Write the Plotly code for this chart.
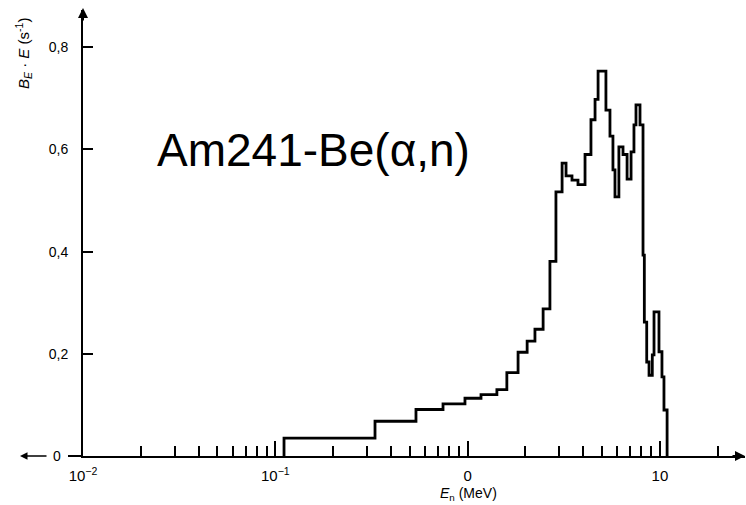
import plotly.graph_objects as go

# Bin edges (MeV) and heights B_E·E (s^-1)
bin_edges = [0.111, 0.330, 0.539, 0.745, 0.969, 1.174, 1.42, 1.60, 1.83, 2.04,
             2.24, 2.47, 2.68, 2.88, 3.10, 3.25, 3.49, 3.75, 4.08, 4.38,
             4.60, 4.77, 5.24, 5.50, 5.70, 5.84, 6.12, 6.43, 6.75, 7.08,
             7.33, 7.51, 7.88, 8.17, 8.30, 8.54, 8.78, 9.13, 9.32, 9.89,
             10.25, 10.5, 10.9]
bin_values = [0.035, 0.068, 0.091, 0.102, 0.113, 0.120, 0.130, 0.163, 0.203,
              0.225, 0.248, 0.288, 0.381, 0.517, 0.573, 0.548, 0.540, 0.531,
              0.590, 0.658, 0.698, 0.753, 0.677, 0.626, 0.560, 0.507, 0.605,
              0.590, 0.542, 0.595, 0.648, 0.687, 0.648, 0.393, 0.262, 0.184,
              0.158, 0.198, 0.282, 0.204, 0.155, 0.090]

x_major_vals = [0.01, 0.1, 1, 10]
x_major_text = ["10<sup>\u22122</sup>", "10<sup>\u22121</sup>", "0", "10"]
x_minor_vals = [0.02, 0.03, 0.04, 0.05, 0.06, 0.07, 0.08, 0.09,
                0.2, 0.3, 0.4, 0.5, 0.6, 0.7, 0.8, 0.9,
                2, 3, 4, 5, 6, 7, 8, 9, 20]
y_tick_vals = [0.2, 0.4, 0.6, 0.8]
y_tick_text = ["0,2", "0,4", "0,6", "0,8"]

xs = [bin_edges[0]] + bin_edges
ys = [0] + bin_values + [0]

W, H = 746, 505
L, R, T, B = 83, 1, 10, 49
pw, ph = W - L - R, H - T - B
px_per_decade = 192.3
y_px_per_unit = 511.0

def px(xp):
    return (xp - L) / pw

def py(yp):
    return (H - B - yp) / ph

FONT = "Liberation Sans, Arial, sans-serif"

fig = go.Figure()
fig.add_trace(go.Scatter(x=xs, y=ys, mode="lines", line=dict(color="black", width=2.8, shape="hv"),
                         hoverinfo="skip", showlegend=False))

fig.update_layout(
    width=W, height=H,
    margin=dict(l=L, r=R, t=T, b=B),
    paper_bgcolor="white", plot_bgcolor="white",
    font=dict(family=FONT, color="black", size=14),
    xaxis=dict(type="log", range=[-2, -2 + pw / px_per_decade],
               showgrid=False, zeroline=False, showline=True, linecolor="black", linewidth=2,
               tickmode="array", tickvals=x_major_vals, ticktext=x_major_text,
               ticks="inside", ticklen=15, tickwidth=1.5, tickcolor="black",
               tickfont=dict(size=15), ticklabelstandoff=5,
               minor=dict(tickmode="array", tickvals=x_minor_vals, ticks="inside",
                          ticklen=10, tickwidth=1.5, tickcolor="black", showgrid=False)),
    yaxis=dict(range=[0, ph / y_px_per_unit], showgrid=False, zeroline=False,
               showline=True, linecolor="black", linewidth=2,
               tickmode="array", tickvals=y_tick_vals, ticktext=y_tick_text,
               ticks="inside", ticklen=10, tickwidth=1.5, tickcolor="black",
               ticklabelstandoff=10),
)

# "0" label on the y axis
fig.add_annotation(xref="paper", yref="paper", x=px(63), y=0, text="0", showarrow=False,
                   xanchor="right", yanchor="middle", font=dict(size=14))
# left extension of baseline and left-pointing arrow
fig.add_shape(type="line", xref="paper", yref="paper", x0=px(68), x1=px(83), y0=0, y1=0,
              line=dict(color="black", width=2))
fig.add_annotation(xref="paper", yref="paper", x=px(20), y=0, ax=28, ay=0, text="",
                   showarrow=True, arrowhead=2, arrowsize=1, arrowwidth=1.5, arrowcolor="black")
# axis arrowheads
fig.add_annotation(xref="paper", yref="paper", x=1.0, y=0, ax=-14, ay=0, text="",
                   showarrow=True, arrowhead=2, arrowsize=1, arrowwidth=2, arrowcolor="black")
fig.add_annotation(xref="paper", yref="paper", x=0, y=py(8), ax=0, ay=14, text="",
                   showarrow=True, arrowhead=2, arrowsize=1, arrowwidth=2, arrowcolor="black")

# axis titles
fig.add_annotation(xref="paper", yref="paper", x=px(24), y=py(54), textangle=-90,
                   xanchor="center", yanchor="middle",
                   text="<i>B</i><sub><i>E</i></sub> \u00b7 <i>E</i> (s<sup>-1</sup>)",
                   showarrow=False, font=dict(size=15))
fig.add_annotation(xref="paper", yref="paper", x=px(468), y=py(494),
                   xanchor="center", yanchor="middle",
                   text="<i>E</i><sub>n</sub> (MeV)", showarrow=False, font=dict(size=14))

# big label
fig.add_annotation(xref="paper", yref="paper", x=px(313), y=py(150),
                   xanchor="center", yanchor="middle",
                   text="Am241-Be(\u03b1,n)", showarrow=False, font=dict(size=46))

fig.write_html("out.html")
